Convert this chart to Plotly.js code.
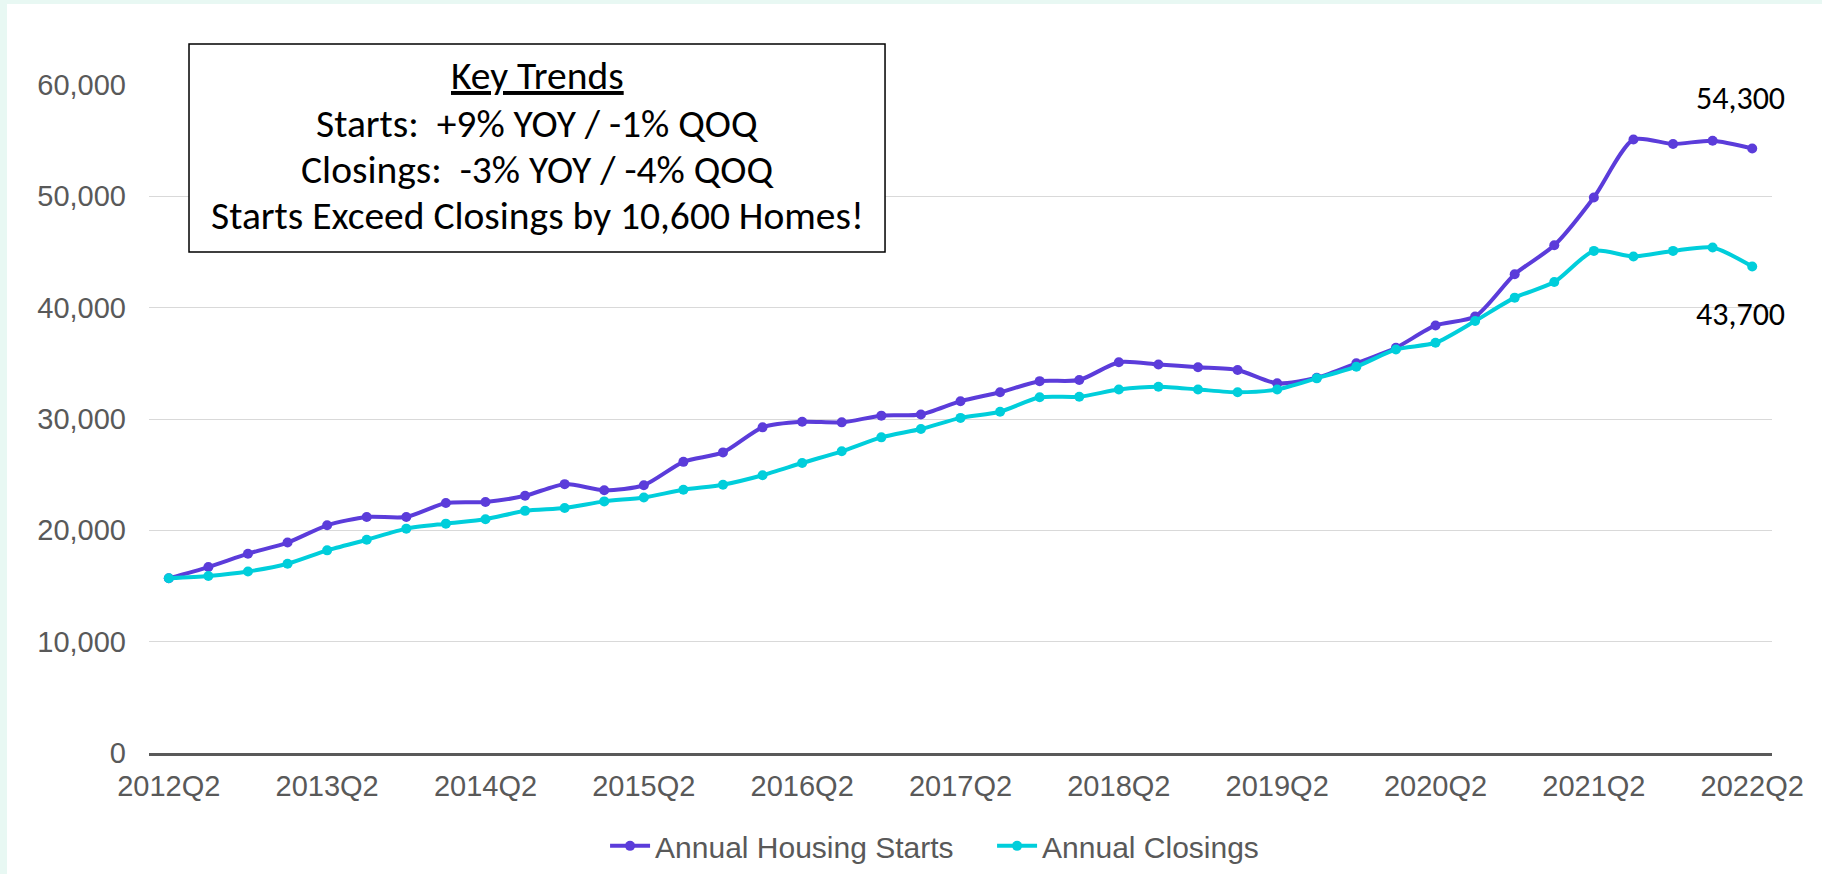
<!DOCTYPE html>
<html>
<head>
<meta charset="utf-8">
<script src="https://cdn.plot.ly/plotly-3.0.1.min.js"></script>
<style>
  html, body { margin: 0; padding: 0; background: #E8F8F3; overflow: hidden; }
  #chart { position: absolute; left: 7px; top: 4px; width: 1815px; height: 870px; background: #ffffff; }
</style>
</head>
<body>
<div id="chart"></div>
<script>
const quarters = [
  "2012Q2","2012Q3","2012Q4","2013Q1","2013Q2","2013Q3","2013Q4","2014Q1","2014Q2","2014Q3","2014Q4",
  "2015Q1","2015Q2","2015Q3","2015Q4","2016Q1","2016Q2","2016Q3","2016Q4","2017Q1","2017Q2","2017Q3","2017Q4",
  "2018Q1","2018Q2","2018Q3","2018Q4","2019Q1","2019Q2","2019Q3","2019Q4","2020Q1","2020Q2","2020Q3","2020Q4",
  "2021Q1","2021Q2","2021Q3","2021Q4","2022Q1","2022Q2"
];
const housingStarts = [
  15700,16700,17900,18900,20450,21200,21200,22450,22550,23100,24150,
  23600,24050,26150,27000,29250,29750,29700,30300,30400,31600,32400,33400,
  33500,35100,34900,34650,34400,33200,33700,35000,36400,38400,39200,43000,
  45600,49900,55100,54700,55000,54300
];
const closings = [
  15700,15900,16300,17000,18200,19150,20150,20600,21000,21750,22000,
  22600,22950,23650,24100,24950,26050,27100,28350,29100,30100,30650,31950,
  32000,32650,32900,32650,32400,32650,33650,34700,36250,36850,38800,40900,
  42300,45100,44600,45100,45400,43700
];
const tickLabels = ["2012Q2","2013Q2","2014Q2","2015Q2","2016Q2","2017Q2","2018Q2","2019Q2","2020Q2","2021Q2","2022Q2"];
const seriesNames = ["Annual Housing Starts", "Annual Closings"];
const keyTrends = [
  "<u>Key Trends</u>",
  "Starts:  +9% YOY / -1% QOQ",
  "Closings:  -3% YOY / -4% QOQ",
  "Starts Exceed Closings by 10,600 Homes!"
];

const purple = "#5B3CDA";
const cyan = "#00CEDB";
const axisFont = { family: "Liberation Sans, Arial, sans-serif", size: 29, color: "#595959" };
const calloutFont = "Carlito, Lato, 'Open Sans', sans-serif";

const traces = [
  {
    x: quarters, y: housingStarts, name: seriesNames[0], type: "scatter", mode: "lines+markers",
    line: { color: purple, width: 4, shape: "spline", smoothing: 0.7 },
    marker: { color: purple, size: 10 }
  },
  {
    x: quarters, y: closings, name: seriesNames[1], type: "scatter", mode: "lines+markers",
    line: { color: cyan, width: 4, shape: "spline", smoothing: 0.7 },
    marker: { color: cyan, size: 10 }
  }
];

const lastQ = quarters[quarters.length - 1];
const lastStart = housingStarts[housingStarts.length - 1];
const lastClose = closings[closings.length - 1];

// paper-y centres of the four callout lines
const lineY = [1.0135, 0.9431, 0.8728, 0.8039];
const calloutAnnotations = keyTrends.map((t, i) => ({
  xref: "paper", yref: "paper", x: 0.2391, y: lineY[i], xanchor: "center", yanchor: "middle",
  text: t, showarrow: false,
  font: { family: calloutFont, size: 39.5, color: "#000000" }
}));

const layout = {
  width: 1815, height: 870,
  margin: { l: 142, r: 50, t: 81, b: 121, autoexpand: false },
  paper_bgcolor: "#ffffff", plot_bgcolor: "#ffffff",
  showlegend: true,
  legend: {
    orientation: "h", x: 0.281, xanchor: "left", y: -0.139, yanchor: "middle",
    font: { family: axisFont.family, size: 30, color: "#595959" },
    itemwidth: 40, tracegroupgap: 0,
    entrywidth: 332, entrywidthmode: "pixels"
  },
  xaxis: {
    type: "category", range: [-0.5, quarters.length - 0.5],
    tickmode: "array", tickvals: tickLabels, ticktext: tickLabels,
    showgrid: false, zeroline: false, ticks: "",
    showline: true, linecolor: "#595959", linewidth: 3,
    tickfont: axisFont, ticklabelstandoff: 5, fixedrange: true
  },
  yaxis: {
    range: [0, 60000], dtick: 10000, tickformat: ",d",
    showgrid: true, gridcolor: "#D9D9D9", gridwidth: 1,
    zeroline: false, showline: false, ticks: "",
    tickfont: axisFont, ticklabelstandoff: 22, fixedrange: true
  },
  shapes: [
    {
      type: "rect", xref: "paper", yref: "paper",
      x0: 0.02465, x1: 0.4535, y0: 0.75, y1: 1.0614,
      line: { color: "#000000", width: 1.5 }, fillcolor: "#ffffff", layer: "above"
    }
  ],
  annotations: calloutAnnotations.concat([
    {
      xref: "x", yref: "y", x: lastQ, y: lastStart, text: lastStart.toLocaleString("en-US"),
      showarrow: false, xshift: -12, yshift: 50,
      font: { family: calloutFont, size: 32, color: "#000000" }
    },
    {
      xref: "x", yref: "y", x: lastQ, y: lastClose, text: lastClose.toLocaleString("en-US"),
      showarrow: false, xshift: -12, yshift: -48,
      font: { family: calloutFont, size: 32, color: "#000000" }
    }
  ])
};

Plotly.newPlot("chart", traces, layout, { displayModeBar: false, staticPlot: true });
</script>
</body>
</html>
